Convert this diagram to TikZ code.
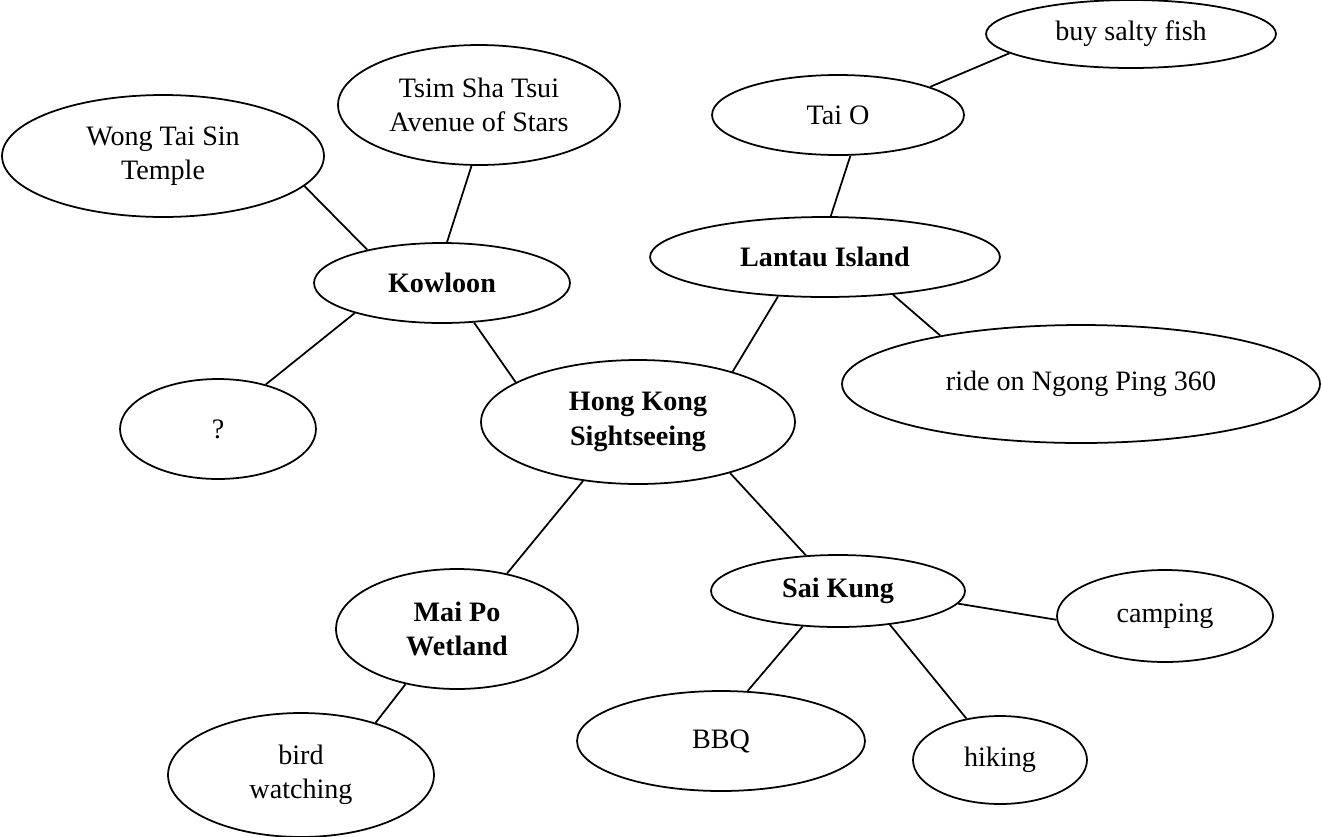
\documentclass[tikz,border=0pt]{standalone}
\usepackage{fontspec}
\setmainfont{Liberation Serif}
\usetikzlibrary{shapes.geometric}

\tikzset{
  bub/.style={ellipse, draw, line width=1pt, inner sep=0pt, align=center,
              font=\fontsize{16}{19.5}\selectfont},
  hub/.style={bub, font=\fontsize{16}{19.5}\selectfont\bfseries},
  link/.style={line width=1pt}
}

\begin{document}
\begin{tikzpicture}[x=0.02cm, y=-0.02cm]
            \useasboundingbox (0,0) rectangle (1322,836);

            % centre of the map
            \node[hub, minimum width=6.28cm, minimum height=2.48cm] (hk) at (638,422) {Hong Kong\\Sightseeing};

            % districts
            \node[hub, minimum width=5.12cm, minimum height=1.6cm] (kowloon) at (442,283) {Kowloon};
            \node[hub, minimum width=7.0cm, minimum height=1.6cm] (lantau) at (825,257) {Lantau Island};
            \node[hub, minimum width=4.84cm, minimum height=2.4cm] (maipo) at (457,629) {Mai Po\\Wetland};
            \node[hub, minimum width=5.08cm, minimum height=1.44cm] (saikung) at (838,591) {Sai Kung};

            % places and activities
            \node[bub, minimum width=6.44cm, minimum height=2.44cm] (wong) at (163,156) {Wong Tai Sin\\Temple};
            \node[bub, minimum width=5.64cm, minimum height=2.4cm] (tsim) at (479,105) {Tsim Sha Tsui\\Avenue of Stars};
            \node[bub, minimum width=3.92cm, minimum height=2.0cm] (unknown) at (218,429) {?};
            \node[bub, minimum width=5.04cm, minimum height=1.6cm] (taio) at (838,115) {Tai O};
            \node[bub, minimum width=5.8cm, minimum height=1.36cm] (fish) at (1131,34) {buy salty fish};
            \node[bub, minimum width=9.56cm, minimum height=2.36cm] (ride) at (1081,384) {ride on Ngong Ping 360};
            \node[bub, minimum width=4.32cm, minimum height=1.84cm] (camping) at (1165,616) {camping};
            \node[bub, minimum width=5.76cm, minimum height=2.0cm] (bbq) at (721,741) {BBQ};
            \node[bub, minimum width=3.48cm, minimum height=1.76cm] (hiking) at (1000,760) {hiking};
            \node[bub, minimum width=5.32cm, minimum height=2.48cm] (bird) at (301,775) {bird\\watching};

            % connectors
            \draw[link] (wong.-12.3) -- (kowloon.156.9);
            \draw[link] (tsim.263.3) -- (kowloon.83.8);
            \draw[link] (kowloon.199.3) -- (unknown.43.1);
            \draw[link] (kowloon.-51.3) -- (hk.162.9);
            \draw[link] (taio.-73.9) -- (lantau.82.2);
            \draw[link] (taio.17.9) -- (fish.189.5);
            \draw[link] (lantau.220.3) -- (hk.28.3);
            \draw[link] (lantau.-29.7) -- (ride.161.9);
            \draw[link] (hk.227.6) -- (maipo.48.8);
            \draw[link] (hk.-29.6) -- (saikung.132.9);
            \draw[link] (saikung.-6.1) -- (camping.182.7);
            \draw[link] (saikung.225) -- (bbq.62);
            \draw[link] (saikung.-33.4) -- (hiking.129.5);
            \draw[link] (maipo.227) -- (bird.35.5);
\end{tikzpicture}
\end{document}
